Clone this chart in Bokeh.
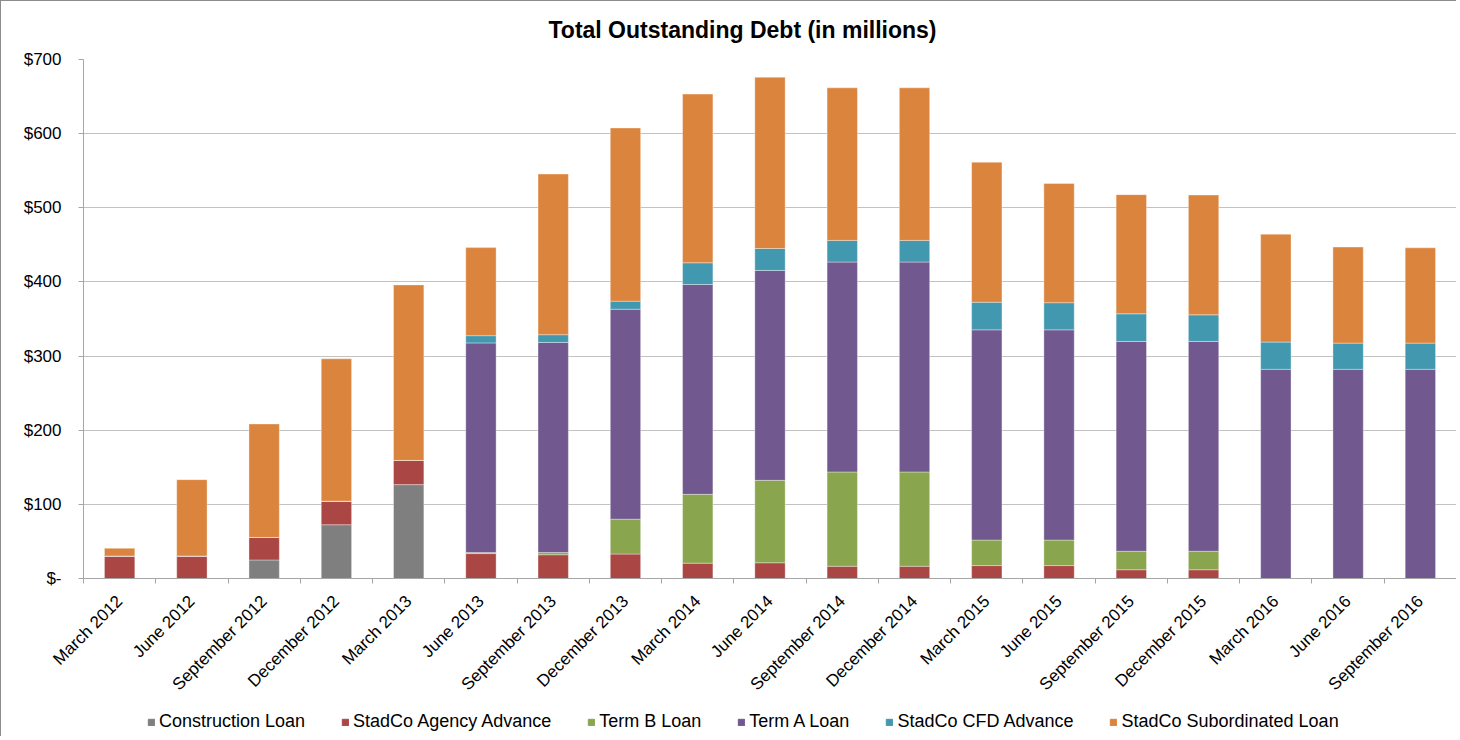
from bokeh.plotting import figure
from bokeh.models import ColumnDataSource, Legend, LegendItem, FixedTicker, Range1d
from bokeh.layouts import column
from bokeh.embed import file_html
from bokeh.resources import INLINE

categories = ["March 2012", "June 2012", "September 2012", "December 2012", "March 2013",
              "June 2013", "September 2013", "December 2013", "March 2014", "June 2014",
              "September 2014", "December 2014", "March 2015", "June 2015", "September 2015",
              "December 2015", "March 2016", "June 2016", "September 2016"]

construction_loan = [0, 0, 25, 72.5, 126.6, 0, 0, 0, 0, 0, 0, 0, 0, 0, 0, 0, 0, 0, 0]
agency_advance = [30.4, 30.4, 30.4, 31.8, 32.7, 33.6, 32, 33, 20.7, 21.2, 16.5, 16.5,
                  17.4, 17.4, 11.8, 11.8, 0, 0, 0]
term_b_loan = [0, 0, 0, 0, 0, 1.3, 2.9, 47, 92.8, 111.2, 127.2, 127.2, 34.4, 34.4,
               24.9, 24.9, 0, 0, 0]
term_a_loan = [0, 0, 0, 0, 0, 282.8, 283.5, 283.2, 283.1, 283.1, 283.1, 283.1, 283.6,
               283.6, 283.1, 283.1, 282.1, 282.1, 282.1]
cfd_advance = [0, 0, 0, 0, 0, 9.8, 10.4, 10.8, 29.2, 29.6, 29.2, 29.2, 37.2, 36.6,
               37.2, 35.8, 36.8, 35.4, 35.4]
subordinated_loan = [10.3, 102.9, 153, 192, 236.7, 118.8, 216.7, 233.6, 227.5, 230.9,
                     205.8, 205.8, 188.9, 160.7, 160.7, 161.6, 145.5, 129.5, 128.5]

series_names = ["Construction Loan", "StadCo Agency Advance", "Term B Loan", "Term A Loan",
                "StadCo CFD Advance", "StadCo Subordinated Loan"]
series_keys = ["construction", "agency", "term_b", "term_a", "cfd", "sub"]
series_colors = ["#7f7f7f", "#aa4643", "#89a54e", "#71588f", "#4198af", "#db843d"]

y_ticks = [0, 100, 200, 300, 400, 500, 600, 700]
y_tick_labels = ["$-", "$100", "$200", "$300", "$400", "$500", "$600", "$700"]

FONT = "Liberation Sans"

positions = [i + 0.5 for i in range(len(categories))]
source = ColumnDataSource(data=dict(
    x=positions,
    construction=construction_loan,
    agency=agency_advance,
    term_b=term_b_loan,
    term_a=term_a_loan,
    cfd=cfd_advance,
    sub=subordinated_loan,
))

p = figure(width=1456, height=702, output_backend="svg", toolbar_location=None,
           x_range=Range1d(0, len(categories)), y_range=Range1d(0, 700),
           min_border_left=82, min_border_right=1, min_border_top=58, min_border_bottom=123)

p.title.text = "Total Outstanding Debt (in millions)"
p.title.align = "left"
p.title.offset = 465
p.title.vertical_align = "top"
p.title.text_font = FONT
p.title.text_font_size = "23px"
p.title.text_font_style = "bold"
p.title.text_color = "#000000"
p.title.standoff = 29

renderers = p.vbar_stack(series_keys, x="x", width=0.42, color=series_colors,
                         line_color="#ffffff", line_alpha=0.35, line_width=1, source=source)

p.outline_line_color = None
p.background_fill_color = "white"
p.border_fill_color = "white"

# grid
p.xgrid.grid_line_color = None
p.ygrid.grid_line_color = "#c2c2c2"
p.ygrid.grid_line_width = 1

# y axis
p.yaxis.ticker = FixedTicker(ticks=y_ticks)
p.yaxis.major_label_overrides = {t: l for t, l in zip(y_ticks, y_tick_labels)}
p.yaxis.major_label_text_font = FONT
p.yaxis.major_label_text_font_size = "17px"
p.yaxis.major_label_text_color = "#000000"
p.yaxis.axis_line_color = "#a6a6a6"
p.yaxis.major_tick_line_color = "#a6a6a6"
p.yaxis.major_tick_out = 5
p.yaxis.major_tick_in = 0
p.yaxis.minor_tick_line_color = None
p.yaxis.major_label_standoff = 17

# x axis
p.xaxis.ticker = FixedTicker(ticks=positions, minor_ticks=list(range(len(categories) + 1)))
p.xaxis.major_label_overrides = {pos: c for pos, c in zip(positions, categories)}
p.xaxis.major_label_orientation = 0.785398
p.xaxis.major_label_text_font = FONT
p.xaxis.major_label_text_font_size = "17px"
p.xaxis.major_label_text_color = "#000000"
p.xaxis.axis_line_color = "#a6a6a6"
p.xaxis.major_tick_line_color = None
p.xaxis.minor_tick_line_color = "#a6a6a6"
p.xaxis.minor_tick_out = 5
p.xaxis.minor_tick_in = 0
p.xaxis.major_label_standoff = 14

p.styles = {"border-top": "1px solid #8c8c8c", "border-left": "1px solid #8c8c8c"}

# legend strip: a small figure below the chart that holds the series legend;
# its copy of the bar stack is hidden so that only the legend entries show
lg = figure(width=1456, height=34, output_backend="svg", toolbar_location=None,
            x_range=Range1d(0, len(categories)), y_range=Range1d(0, 700),
            min_border_left=0, min_border_right=0, min_border_top=0, min_border_bottom=0,
            x_axis_location=None, y_axis_location=None)
lg.outline_line_color = None
lg.grid.visible = False
lg.border_fill_color = "white"
legend_renderers = lg.vbar_stack(series_keys, x="x", width=0.42, color=series_colors,
                                 source=source, visible=False)

legend = Legend(items=[LegendItem(label=n, renderers=[r]) for n, r in zip(series_names, legend_renderers)],
                orientation="horizontal", location=(64, 4))
legend.label_text_font = FONT
legend.label_text_font_size = "18px"
legend.label_text_color = "#000000"
legend.glyph_width = 8
legend.glyph_height = 8
legend.label_standoff = 4
legend.spacing = 36
legend.padding = 2
legend.margin = 0
legend.border_line_color = None
legend.background_fill_color = None
legend.inactive_fill_alpha = 0
lg.add_layout(legend, "center")
lg.styles = {"border-left": "1px solid #8c8c8c"}

layout = column(p, lg, spacing=0)

open("out.html", "w").write(file_html(layout, INLINE))
